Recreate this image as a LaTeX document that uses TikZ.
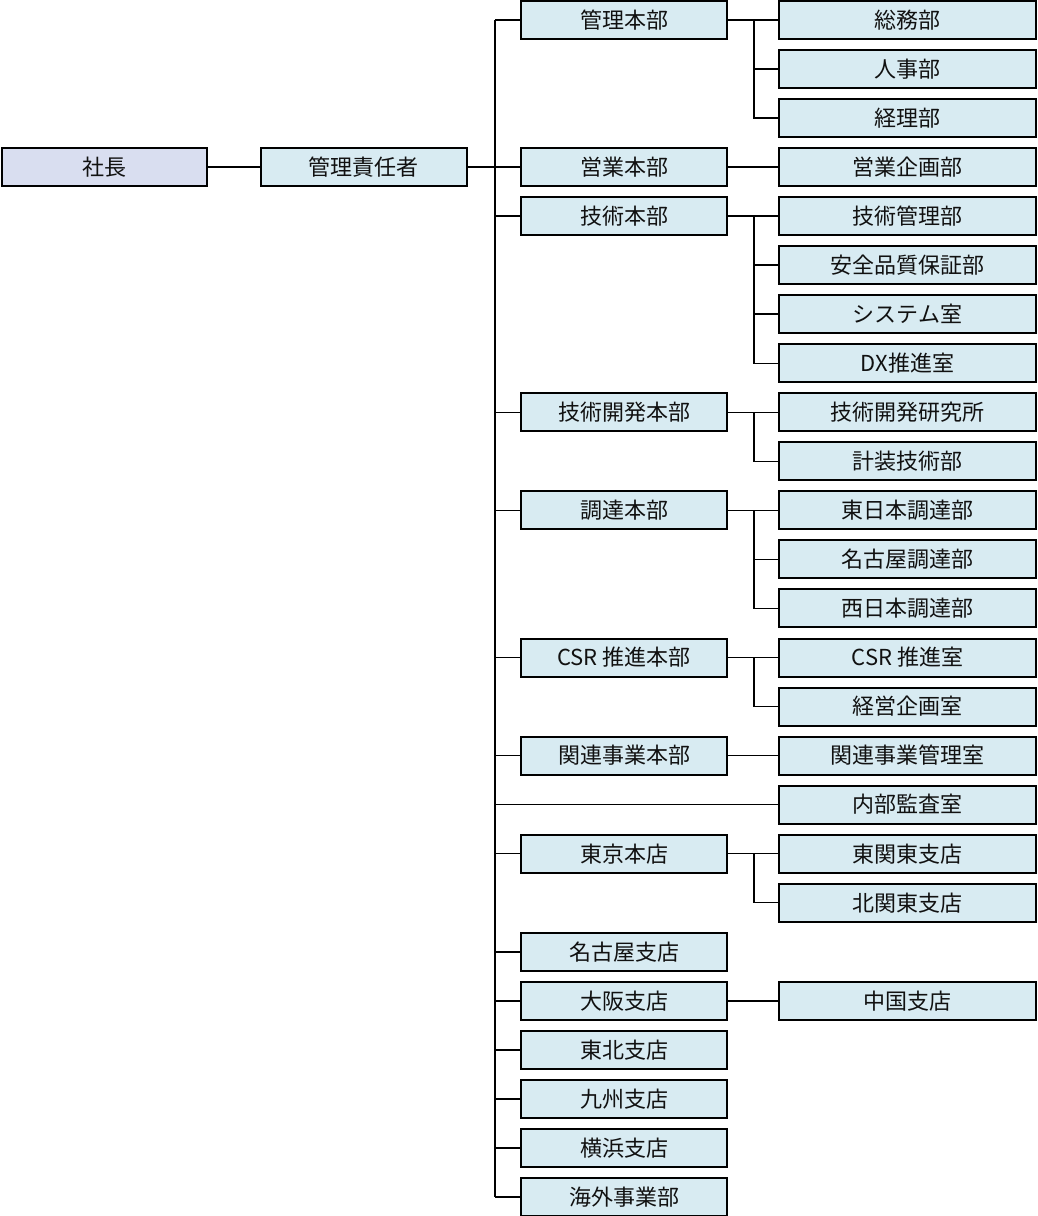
\documentclass[tikz,border=0pt]{standalone}
\usepackage{fontspec}
\setmainfont{Noto Sans CJK JP}
\definecolor{execfill}{HTML}{D9DEF0}
\definecolor{unitfill}{HTML}{D8EBF2}
\definecolor{ink}{HTML}{111111}

\begin{document}
\begin{tikzpicture}[x=1pt, y=-49.04pt,
        box/.style={draw=black, line width=2pt, minimum height=38pt, inner sep=0pt, font=\fontsize{22pt}{26pt}\selectfont, text=ink},
        exec/.style={box, fill=execfill, minimum width=205pt},
        hq/.style={box, fill=unitfill, minimum width=206pt},
        sect/.style={box, fill=unitfill, minimum width=257pt},
        link/.style={draw=black, line width=1.5pt}]
        \useasboundingbox (0pt,20pt) rectangle (1038pt,-1196pt);
        % top of the chart
        \node[exec] (pres) at (104.5,3) {社長};
        \node[hq] (mgr) at (363.5,3) {管理責任者};
        \coordinate (top) at (495,0);
        \coordinate (bot) at (495,24);
        \draw[link] (pres) -- (mgr);
        \draw[link] (mgr.east) -- (mgr.east -| top);
        \draw[link] (top) -- (bot);
        % head offices
        \foreach \r/\n/\t in {0/hA/管理本部, 3/hB/営業本部, 4/hC/技術本部, 8/hD/技術開発本部,
                10/hE/調達本部, 13/hF/CSR 推進本部, 15/hG/関連事業本部, 17/hH/東京本店,
                19/hI/名古屋支店, 20/hJ/大阪支店, 21/hK/東北支店, 22/hL/九州支店,
                23/hM/横浜支店, 24/hN/海外事業部} {
            \node[hq] (\n) at (624,\r) {\t};
            \draw[link] (\n.west -| top) -- (\n.west);
        }
        % sections
        \foreach \r/\n/\p/\t in {0/sA1/hA/総務部, 1/sA2/hA/人事部, 2/sA3/hA/経理部,
                3/sB1/hB/営業企画部,
                4/sC1/hC/技術管理部, 5/sC2/hC/安全品質保証部, 6/sC3/hC/システム室, 7/sC4/hC/DX推進室,
                8/sD1/hD/技術開発研究所, 9/sD2/hD/計装技術部,
                10/sE1/hE/東日本調達部, 11/sE2/hE/名古屋調達部, 12/sE3/hE/西日本調達部,
                13/sF1/hF/CSR 推進室, 14/sF2/hF/経営企画室,
                15/sG1/hG/関連事業管理室,
                17/sH1/hH/東関東支店, 18/sH2/hH/北関東支店,
                20/sJ1/hJ/中国支店} {
            \node[sect] (\n) at (907.5,\r) {\t};
            \draw[link] (\p.east) -- ++(26pt,0) |- (\n.west);
        }
        % audit office hangs on the trunk
        \node[sect] (audit) at (907.5,16) {内部監査室};
        \draw[link] (audit.west -| top) -- (audit.west);
    \end{tikzpicture}
\end{document}
